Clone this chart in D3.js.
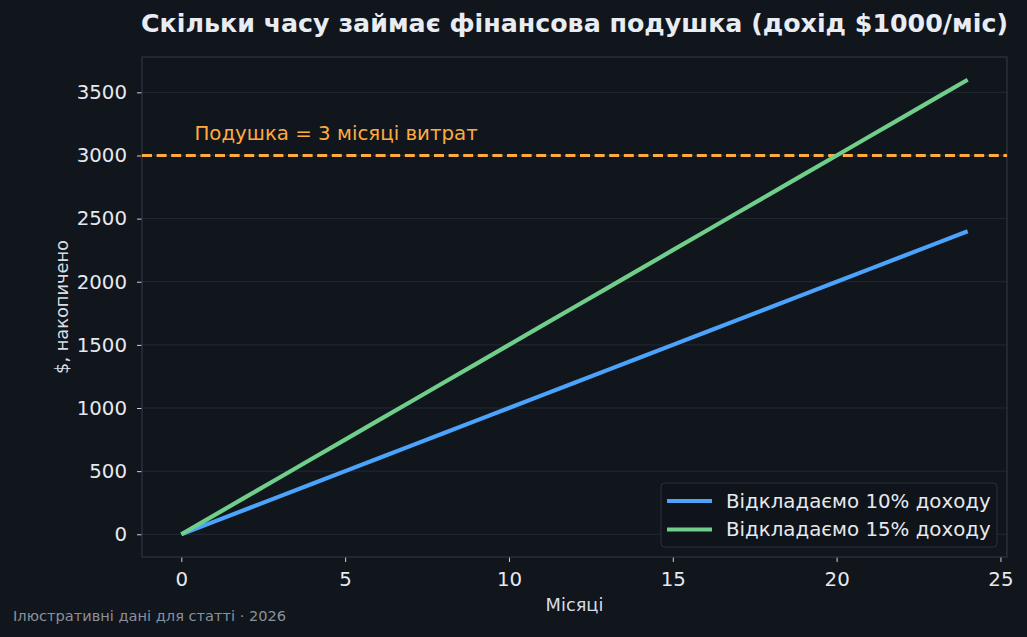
<!DOCTYPE html>
<html>
<head>
<meta charset="utf-8">
<script src="https://cdn.jsdelivr.net/npm/d3@7"></script>
<style>
  html, body { margin: 0; padding: 0; background: #11151c; }
  svg { display: block; font-family: "DejaVu Sans", sans-serif; }
</style>
</head>
<body>
<svg id="svg1" width="1027" height="637"></svg>
<script>
// chart data
var months = [0, 1, 2, 3, 4, 5, 6, 7, 8, 9, 10, 11, 12, 13, 14, 15, 16, 17, 18, 19, 20, 21, 22, 23, 24];
var save10 = [0, 100, 200, 300, 400, 500, 600, 700, 800, 900, 1000, 1100, 1200, 1300, 1400, 1500, 1600, 1700, 1800, 1900, 2000, 2100, 2200, 2300, 2400];
var save15 = [0, 150, 300, 450, 600, 750, 900, 1050, 1200, 1350, 1500, 1650, 1800, 1950, 2100, 2250, 2400, 2550, 2700, 2850, 3000, 3150, 3300, 3450, 3600];
var seriesNames = ['Відкладаємо 10% доходу', 'Відкладаємо 15% доходу'];
var cushion = 3000;
var cushionLabel = 'Подушка = 3 місяці витрат';
var xTicks = [0, 5, 10, 15, 20, 25];
var yTicks = [0, 500, 1000, 1500, 2000, 2500, 3000, 3500];

var colors = ['#4ba3fb', '#6fcf8a'];
var orange = '#ffab40';

var svg = d3.select('#svg1');

var marginLeft = 142;
var marginTop = 57;
var plotW = 1007 - marginLeft;
var plotH = 557 - marginTop;

var scaleX = d3.scaleLinear().domain([-1.2, 25.2]).range([0, plotW]);
var scaleY = d3.scaleLinear().domain([-180, 3780]).range([plotH, 0]);

// title
svg.append('text')
    .attr('x', marginLeft + plotW / 2)
    .attr('y', 32)
    .attr('text-anchor', 'middle')
    .attr('font-size', 25.3)
    .attr('font-weight', 'bold')
    .attr('fill', '#e8ecf3')
    .text('Скільки часу займає фінансова подушка (дохід $1000/міс)');

var g = svg.append('g')
    .attr('transform', 'translate(' + marginLeft + ',' + marginTop + ')');

// grid
g.selectAll('.grid-y')
    .data(yTicks)
    .enter()
    .append('line')
    .attr('class', 'grid-y')
    .attr('x1', 0)
    .attr('x2', plotW)
    .attr('y1', function(d) { return scaleY(d); })
    .attr('y2', function(d) { return scaleY(d); })
    .attr('stroke', '#232a35')
    .attr('stroke-width', 1);

// axes
var xAxis = g.append('g')
    .attr('transform', 'translate(0,' + plotH + ')')
    .call(d3.axisBottom(scaleX).tickValues(xTicks).tickFormat(d3.format('d')).tickSize(5).tickPadding(10));

var yAxis = g.append('g')
    .call(d3.axisLeft(scaleY).tickValues(yTicks).tickFormat(d3.format('d')).tickSize(5).tickPadding(10));

[xAxis, yAxis].forEach(function(ax) {
  ax.select('.domain').remove();
  ax.selectAll('.tick line').attr('stroke', '#c9ced8');
  ax.selectAll('.tick text')
      .attr('fill', '#e6e9ef')
      .attr('font-size', 19.8)
      .attr('font-family', 'DejaVu Sans, sans-serif');
});

// frame
g.append('rect')
    .attr('x', 0)
    .attr('y', 0)
    .attr('width', plotW)
    .attr('height', plotH)
    .attr('fill', 'none')
    .attr('stroke', '#2e3543')
    .attr('stroke-width', 1.2);

// cushion line
g.append('line')
    .attr('x1', 0)
    .attr('x2', plotW)
    .attr('y1', scaleY(cushion))
    .attr('y2', scaleY(cushion))
    .attr('stroke', orange)
    .attr('stroke-width', 2.8)
    .attr('stroke-dasharray', '10,4.6');

g.append('text')
    .attr('x', scaleX(0.4))
    .attr('y', scaleY(cushion) - 15)
    .attr('font-size', 19.8)
    .attr('fill', orange)
    .text(cushionLabel);

// lines
var line = d3.line()
    .x(function(d) { return scaleX(d[0]); })
    .y(function(d) { return scaleY(d[1]); });

[save10, save15].forEach(function(vals, i) {
  g.append('path')
      .datum(months.map(function(m, j) { return [m, vals[j]]; }))
      .attr('fill', 'none')
      .attr('stroke', colors[i])
      .attr('stroke-width', 4.2)
      .attr('d', line);
});

// legend
var legend = g.append('g')
    .attr('transform', 'translate(' + (661 - marginLeft) + ',' + (483 - marginTop) + ')');

legend.append('rect')
    .attr('width', 336)
    .attr('height', 64)
    .attr('rx', 4)
    .attr('fill', '#10141b')
    .attr('fill-opacity', 0.9)
    .attr('stroke', '#2a313d')
    .attr('stroke-width', 1);

seriesNames.forEach(function(name, i) {
  var yy = 18 + i * 28.5;
  legend.append('line')
      .attr('x1', 6)
      .attr('x2', 51)
      .attr('y1', yy)
      .attr('y2', yy)
      .attr('stroke', colors[i])
      .attr('stroke-width', 4.2);
  legend.append('text')
      .attr('x', 65)
      .attr('y', yy + 6.5)
      .attr('font-size', 19.8)
      .attr('fill', '#e6e9ef')
      .text(name);
});

// axis labels
svg.append('text')
    .attr('x', marginLeft + plotW / 2)
    .attr('y', 611)
    .attr('text-anchor', 'middle')
    .attr('font-size', 17.8)
    .attr('fill', '#d8dce4')
    .text('Місяці');

svg.append('text')
    .attr('transform', 'translate(68,' + (marginTop + plotH / 2) + ') rotate(-90)')
    .attr('text-anchor', 'middle')
    .attr('font-size', 17.8)
    .attr('fill', '#d8dce4')
    .text('$, накопичено');

// footer
svg.append('text')
    .attr('x', 13)
    .attr('y', 621)
    .attr('font-size', 14.6)
    .attr('fill', '#8a919e')
    .text('Ілюстративні дані для статті · 2026');
</script>
</body>
</html>
